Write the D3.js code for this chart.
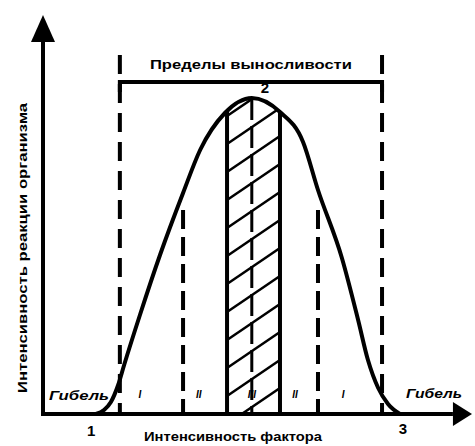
<!DOCTYPE html>
<html>
<head>
<meta charset="utf-8">
<script src="https://cdn.jsdelivr.net/npm/d3@7"></script>
<style>
    body { margin: 0; background: #fff; }
    text { font-family: "Liberation Sans Narrow", "Liberation Sans", Arial, sans-serif; font-weight: bold; fill: #000; }
</style>
</head>
<body>
<div id="chart"></div>
<script>
// 1: DATA (x = интенсивность фактора, y = реакция организма, условные единицы 0..100)
const curveX = [12.4, 14.3, 15.9, 17.6, 19.0, 22.7, 27.4, 32.8, 36.8, 42.6, 48.9, 55.5, 60.9, 64.4, 70.0, 73.8, 76.1, 78.5, 80.8, 83.6];
const curveY = [0, 1, 3, 7.25, 12.25, 24.75, 39.75, 55.25, 66, 75.25, 79, 75.5, 68, 56, 39, 23.5, 13.5, 6.5, 2.5, 0];

// zone boundaries: outer limits, inner limits, optimum
const limitX = [18.0, 79.4];
const innerX = [32.8, 64.4];
const optimumX = [43.1, 55.5];
const peakX = 48.9;
const limitTop = 89.75;
const innerTop = 51;
const bracketY = 83;

const zoneLabels = ["I", "II", "III", "II", "I"];
const zoneLabelX = [22.7, 36.5, 48.9, 59.0, 70.3];

const pointLabels = ["1", "2", "3"];
const pointLabelX = [11.3, 52.0, 84.3];
const pointLabelY = [-5.5, 80.3, -5.0];

// 2: SVG
const W = 475, H = 446;
const svg = d3.select("#chart").append("svg")
    .attr("width", W)
    .attr("height", H);

// 3: SCALES
const x = d3.scaleLinear().domain([0, 100]).range([43, 470]);
const y = d3.scaleLinear().domain([0, 100]).range([414, 14]);

const pts = curveX.map((d, i) => ({ x: d, y: curveY[i] }));
const line = d3.line().x(d => x(d.x)).y(d => y(d.y)).curve(d3.curveMonotoneX);
const area = d3.area().x(d => x(d.x)).y0(y(0)).y1(d => y(d.y)).curve(d3.curveMonotoneX);

// 4: HATCHED OPTIMUM ZONE
const defs = svg.append("defs");
defs.append("clipPath").attr("id", "underCurve")
    .append("path").attr("d", area(pts));

const opt = svg.append("g").attr("clip-path", "url(#underCurve)");
opt.append("g")
    .selectAll("line.hatch")
    .data(d3.range(-2, 14))
    .join("line")
    .attr("class", "hatch")
    .attr("x1", x(optimumX[0]))
    .attr("x2", x(optimumX[1]))
    .attr("y1", i => y(0) - i * 28 + 10)
    .attr("y2", i => y(0) - i * 28 - 26)
    .attr("stroke", "#000")
    .attr("stroke-width", 2.5);
opt.selectAll("line.edge")
    .data(optimumX)
    .join("line")
    .attr("class", "edge")
    .attr("x1", d => x(d)).attr("x2", d => x(d))
    .attr("y1", y(0)).attr("y2", y(100))
    .attr("stroke", "#000")
    .attr("stroke-width", 4);

// 5: DASHED LIMIT LINES
svg.selectAll("line.limit")
    .data(limitX)
    .join("line")
    .attr("class", "limit")
    .attr("x1", d => x(d)).attr("x2", d => x(d))
    .attr("y1", y(limitTop)).attr("y2", y(0))
    .attr("stroke", "#000")
    .attr("stroke-width", 4)
    .attr("stroke-dasharray", "19,10");

svg.selectAll("line.inner")
    .data(innerX)
    .join("line")
    .attr("class", "inner")
    .attr("x1", d => x(d)).attr("x2", d => x(d))
    .attr("y1", y(innerTop)).attr("y2", y(0))
    .attr("stroke", "#000")
    .attr("stroke-width", 4)
    .attr("stroke-dasharray", "19,8");

svg.append("line")
    .attr("x1", x(peakX)).attr("x2", x(peakX))
    .attr("y1", y(79)).attr("y2", y(0))
    .attr("stroke", "#000")
    .attr("stroke-width", 3)
    .attr("stroke-dasharray", "22,6");

// bracket "Пределы выносливости"
svg.append("path")
    .attr("d", `M${x(limitX[0])},${y(bracketY) + 10}V${y(bracketY)}H${x(limitX[1])}V${y(bracketY) + 10}`)
    .attr("fill", "none")
    .attr("stroke", "#000")
    .attr("stroke-width", 4);

svg.append("text")
    .attr("x", (x(limitX[0]) + x(limitX[1])) / 2)
    .attr("y", y(bracketY) - 13)
    .attr("text-anchor", "middle")
    .attr("font-size", 13)
    .attr("textLength", 202)
    .attr("lengthAdjust", "spacingAndGlyphs")
    .text("Пределы выносливости");

// 6: CURVE
svg.append("path")
    .attr("d", line(pts))
    .attr("fill", "none")
    .attr("stroke", "#000")
    .attr("stroke-width", 4);

// 7: AXES WITH ARROWS
svg.append("line")
    .attr("x1", x(0)).attr("x2", x(0))
    .attr("y1", y(0) + 2).attr("y2", y(93))
    .attr("stroke", "#000").attr("stroke-width", 4);
svg.append("path")
    .attr("d", `M${x(0)},${y(100) + 1}L${x(0) - 12},${y(93)}L${x(0) + 12},${y(93)}Z`)
    .attr("fill", "#000");

svg.append("line")
    .attr("x1", x(0)).attr("x2", x(96))
    .attr("y1", y(0)).attr("y2", y(0))
    .attr("stroke", "#000").attr("stroke-width", 4);
svg.append("path")
    .attr("d", `M${x(100) + 2},${y(0)}L${x(96)},${y(0) - 12}L${x(96)},${y(0) + 12}Z`)
    .attr("fill", "#000");

// 8: LABELS
svg.append("text")
    .attr("transform", `translate(27,${(y(0) + y(100)) / 2 + 34}) rotate(-90)`)
    .attr("text-anchor", "middle")
    .attr("font-size", 13)
    .attr("textLength", 290)
    .attr("lengthAdjust", "spacingAndGlyphs")
    .text("Интенсивность реакции организма");

svg.append("text")
    .attr("x", 233)
    .attr("y", 441)
    .attr("text-anchor", "middle")
    .attr("font-size", 12)
    .attr("textLength", 178)
    .attr("lengthAdjust", "spacingAndGlyphs")
    .text("Интенсивность фактора");

svg.append("text")
    .attr("x", 49).attr("y", 400)
    .attr("font-size", 12).attr("font-style", "italic")
    .attr("textLength", 60).attr("lengthAdjust", "spacingAndGlyphs")
    .text("Гибель");
svg.append("text")
    .attr("x", 406).attr("y", 398)
    .attr("font-size", 12).attr("font-style", "italic")
    .attr("textLength", 56).attr("lengthAdjust", "spacingAndGlyphs")
    .text("Гибель");

svg.selectAll("text.zone")
    .data(zoneLabels)
    .join("text")
    .attr("class", "zone")
    .attr("x", (d, i) => x(zoneLabelX[i]))
    .attr("y", y(4))
    .attr("text-anchor", "middle")
    .attr("font-size", 10)
    .attr("font-style", "italic")
    .text(d => d);

svg.selectAll("text.point")
    .data(pointLabels)
    .join("text")
    .attr("class", "point")
    .attr("x", (d, i) => x(pointLabelX[i]))
    .attr("y", (d, i) => y(pointLabelY[i]))
    .attr("text-anchor", "middle")
    .attr("font-size", 15)
    .text(d => d);
</script>
</body>
</html>
